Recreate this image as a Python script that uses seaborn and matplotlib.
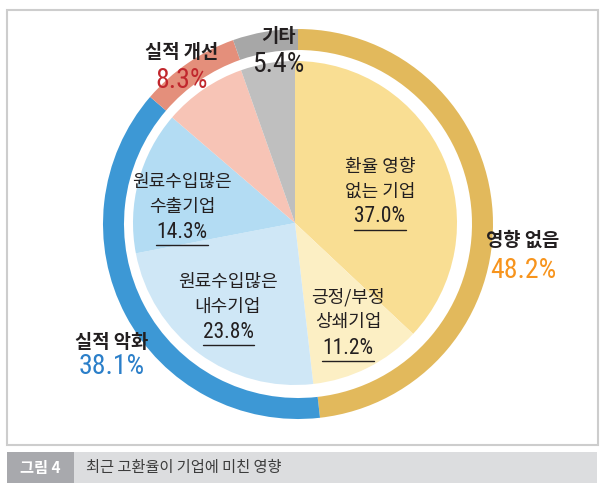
#
# Nested pie: effect of the recent high exchange rate on firms
#
import numpy as np
import pandas as pd
import matplotlib
matplotlib.use('Agg')
import matplotlib.pyplot as plt
import seaborn as sns
from matplotlib.patches import Rectangle
from matplotlib import font_manager

# ------------------------------------------------------------- #
# Data
#
outer_labels = ['영향 없음', '실적 악화', '실적 개선', '기타']
outer_values = [48.2, 38.1, 8.3, 5.4]
outer_colors = ['#e2b95c', '#3d98d5', '#e48f7b', '#a7a7a7']
outer_numcolors = ['#f7941d', '#2b7fc9', '#c1272d', '#231f20']

inner_labels = ['환율 영향\n없는 기업', '긍정/부정\n상쇄기업', '원료수입많은\n내수기업',
                '원료수입많은\n수출기업', '', '']
inner_values = [37.0, 11.2, 23.8, 14.3, 8.3, 5.4]
inner_colors = ['#f9de93', '#fcefc4', '#cfe7f6', '#b3dcf3', '#f7c4b6', '#bfbfbf']

caption_tag = '그림 4'
caption_text = '최근 고환율이 기업에 미친 영향'

# ------------------------------------------------------------- #
# Layout (pixel coordinates, y from top)
#
W, H = 606, 493
outer_pos = [(523, 240, 270), (112, 342, 367), (182, 52, 80), (278, 37, 65)]
inner_pos = [(380, 167, 192, 217), (348, 297, 322, 348), (228, 282, 307, 332),
             (182, 182, 207, 232), None, None]

sns.set_theme(style='white')
plt.rcParams['font.family'] = ['Noto Sans CJK KR', 'DejaVu Sans']

# pick a narrow face for the numbers if one is around
avail = {(f.name, f.stretch) for f in font_manager.fontManager.ttflist}
names = {n for n, s in avail}
numprops = dict(family=['Noto Sans CJK KR'], scale=0.86)
if 'Liberation Sans Narrow' in names:
    numprops = dict(family=['Liberation Sans Narrow'], scale=1.0)
elif 'Roboto Condensed' in names:
    numprops = dict(family=['Roboto Condensed'], scale=1.0)
elif ('DejaVu Sans', 'condensed') in avail or ('DejaVu Sans', 'semi-condensed') in avail:
    numprops = dict(family=['DejaVu Sans'], stretch='condensed', scale=0.95)


def numtext(x, y, s, size, color):
    kw = dict(family=numprops['family'])
    if 'stretch' in numprops:
        kw['fontstretch'] = numprops['stretch']
    return ax.text(x, y, s, fontsize=size * numprops['scale'], color=color,
                   ha='center', va='center', **kw)


def py(y):
    return H - y


fig = plt.figure(figsize=(W / 100, H / 100), dpi=100)
ax = fig.add_axes([0, 0, 1, 1])

# frame and caption bar
ax.add_patch(Rectangle((7, py(445)), 591, 435, facecolor='white',
                       edgecolor='#cdcdcd', lw=1.5, zorder=0))
ax.add_patch(Rectangle((7, py(483)), 590, 31, facecolor='#dcdddf',
                       edgecolor='none', zorder=0))
ax.add_patch(Rectangle((7, py(483)), 67, 31, facecolor='#a8a9ad',
                       edgecolor='none', zorder=1))
ax.text(40, py(467.5), caption_tag, color='white', fontsize=11, fontweight='bold',
        ha='center', va='center')
ax.text(86, py(467.5), caption_text, color='#3c3c3c', fontsize=11,
        ha='left', va='center')

# outer ring
ax.pie(outer_values, colors=outer_colors, radius=195, center=(298, py(224)),
       startangle=90, counterclock=False, frame=True,
       wedgeprops=dict(width=21, edgecolor='none'))

# inner pie
ax.pie(inner_values, colors=inner_colors, radius=162, center=(295, py(223)),
       startangle=90, counterclock=False, frame=True,
       wedgeprops=dict(edgecolor='none'))

# outer labels
for lab, val, col, pos in zip(outer_labels, outer_values, outer_numcolors, outer_pos):
    x, y1, y2 = pos
    ax.text(x, py(y1), lab, fontsize=13.5, fontweight='bold', color='#231f20',
            ha='center', va='center')
    numtext(x, py(y2), f'{val:.1f}%', 20, col)

# inner labels, numbers underlined
under = []
for lab, val, pos in zip(inner_labels, inner_values, inner_pos):
    if pos is None:
        continue
    x, y1, y2, y3 = pos
    l1, l2 = lab.split('\n')
    ax.text(x, py(y1), l1, fontsize=13, color='#231f20', ha='center', va='center')
    ax.text(x, py(y2), l2, fontsize=13, color='#231f20', ha='center', va='center')
    under.append(numtext(x, py(y3), f'{val:.1f}%', 15.5, '#231f20'))

ax.set_xlim(0, W)
ax.set_ylim(0, H)
ax.set_aspect('equal')
ax.axis('off')

fig.canvas.draw()
renderer = fig.canvas.get_renderer()
inv = ax.transData.inverted()
for t in under:
    bb = t.get_window_extent(renderer)
    (x0, y0), (x1, _) = inv.transform([(bb.x0, bb.y0), (bb.x1, bb.y1)])
    ax.plot([x0, x1], [y0 - 2.5, y0 - 2.5], color='#231f20', lw=1.0)

fig.savefig('out.png', dpi=100)
plt.close(fig)
